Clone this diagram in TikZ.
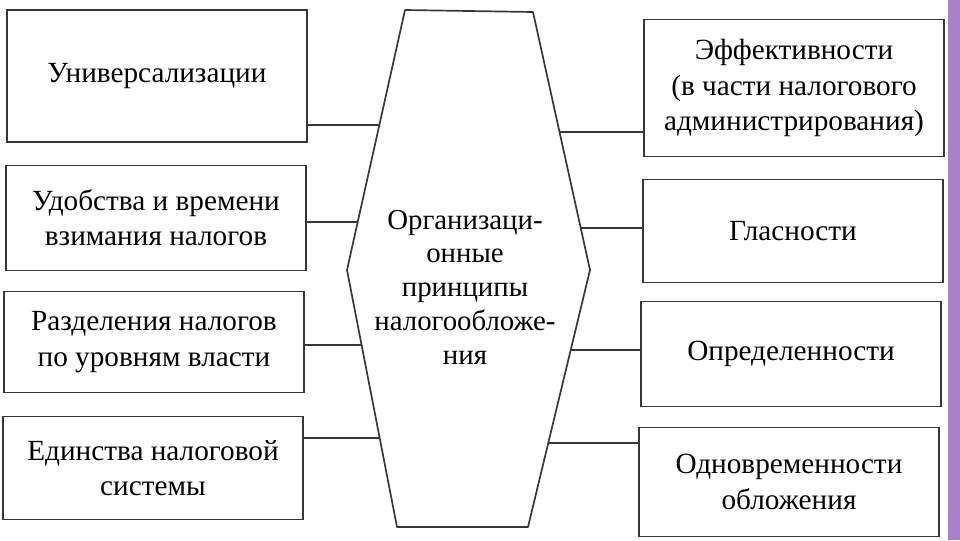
\documentclass[tikz,border=0pt]{standalone}
\usepackage{fontspec}
\setmainfont{Liberation Serif}
\usepackage{xcolor}
\usepackage{tikz}
\usetikzlibrary{calc}
\definecolor{linegray}{RGB}{55,55,55}
\definecolor{sidebar}{RGB}{168,128,204}

\begin{document}
\begin{tikzpicture}[
    x=0.025cm, y=-0.025cm,
    font=\fontsize{20.8}{25}\selectfont,
    block/.style={
        rectangle,
        draw=linegray,
        line width=1.2pt,
        minimum width=7.5cm,
        align=center,
        inner sep=2pt
    },
    link/.style={line width=1.2pt, color=linegray}
]
\useasboundingbox (0,0) rectangle (960,540);
\fill[sidebar] (948,0) rectangle (960,540);

% left column
\node[block, minimum height=3.3cm] (univ) at (157,76) {Универсализации};
\node[block, minimum height=2.63cm] (udob) at (156,218) {Удобства и времени\\взимания налогов};
\node[block, minimum height=2.53cm] (razd) at (154,342) {Разделения налогов\\по уровням власти};
\node[block, minimum height=2.58cm] (edin) at (153,468) {Единства налоговой\\системы};

% right column
\node[block, minimum height=3.43cm] (effek) at (794,88) {Эффективности\\(в части налогового\\администрирования)};
\node[block, minimum height=2.58cm] (glas) at (793,231) {Гласности};
\node[block, minimum height=2.63cm] (opred) at (791,354) {Определенности};
\node[block, minimum height=2.73cm] (odnovr) at (789,482) {Одновременности\\обложения};

% central hexagon
\coordinate (htl) at (405,10);
\coordinate (htr) at (533,12);
\coordinate (hr) at (590,270);
\coordinate (hbr) at (528,527);
\coordinate (hbl) at (397,527);
\coordinate (hl) at (347,270);
\draw[link, line join=round] (htl) -- (htr) -- (hr) -- (hbr) -- (hbl) -- (hl) -- cycle;
\node[align=center, font=\fontsize{20.5}{24}\selectfont] (princ) at (465,287) {Организаци-\\онные\\принципы\\налогообложе-\\ния};

% points on the hexagon edges
\coordinate (jl1) at ($(hl)!0.558!(htl)$);
\coordinate (jl2) at ($(hl)!0.185!(htl)$);
\coordinate (jl3) at ($(hl)!0.292!(hbl)$);
\coordinate (jl4) at ($(hl)!0.654!(hbl)$);
\coordinate (jr1) at ($(hr)!0.535!(htr)$);
\coordinate (jr2) at ($(hr)!0.163!(htr)$);
\coordinate (jr3) at ($(hr)!0.311!(hbr)$);
\coordinate (jr4) at ($(hr)!0.673!(hbr)$);

\draw[link] (jl1) -- (jl1 -| univ.east);
\draw[link] (jl2) -- (jl2 -| udob.east);
\draw[link] (jl3) -- (jl3 -| razd.east);
\draw[link] (jl4) -- (jl4 -| edin.east);
\draw[link] (jr1) -- (jr1 -| effek.west);
\draw[link] (jr2) -- (jr2 -| glas.west);
\draw[link] (jr3) -- (jr3 -| opred.west);
\draw[link] (jr4) -- (jr4 -| odnovr.west);

\end{tikzpicture}
\end{document}
